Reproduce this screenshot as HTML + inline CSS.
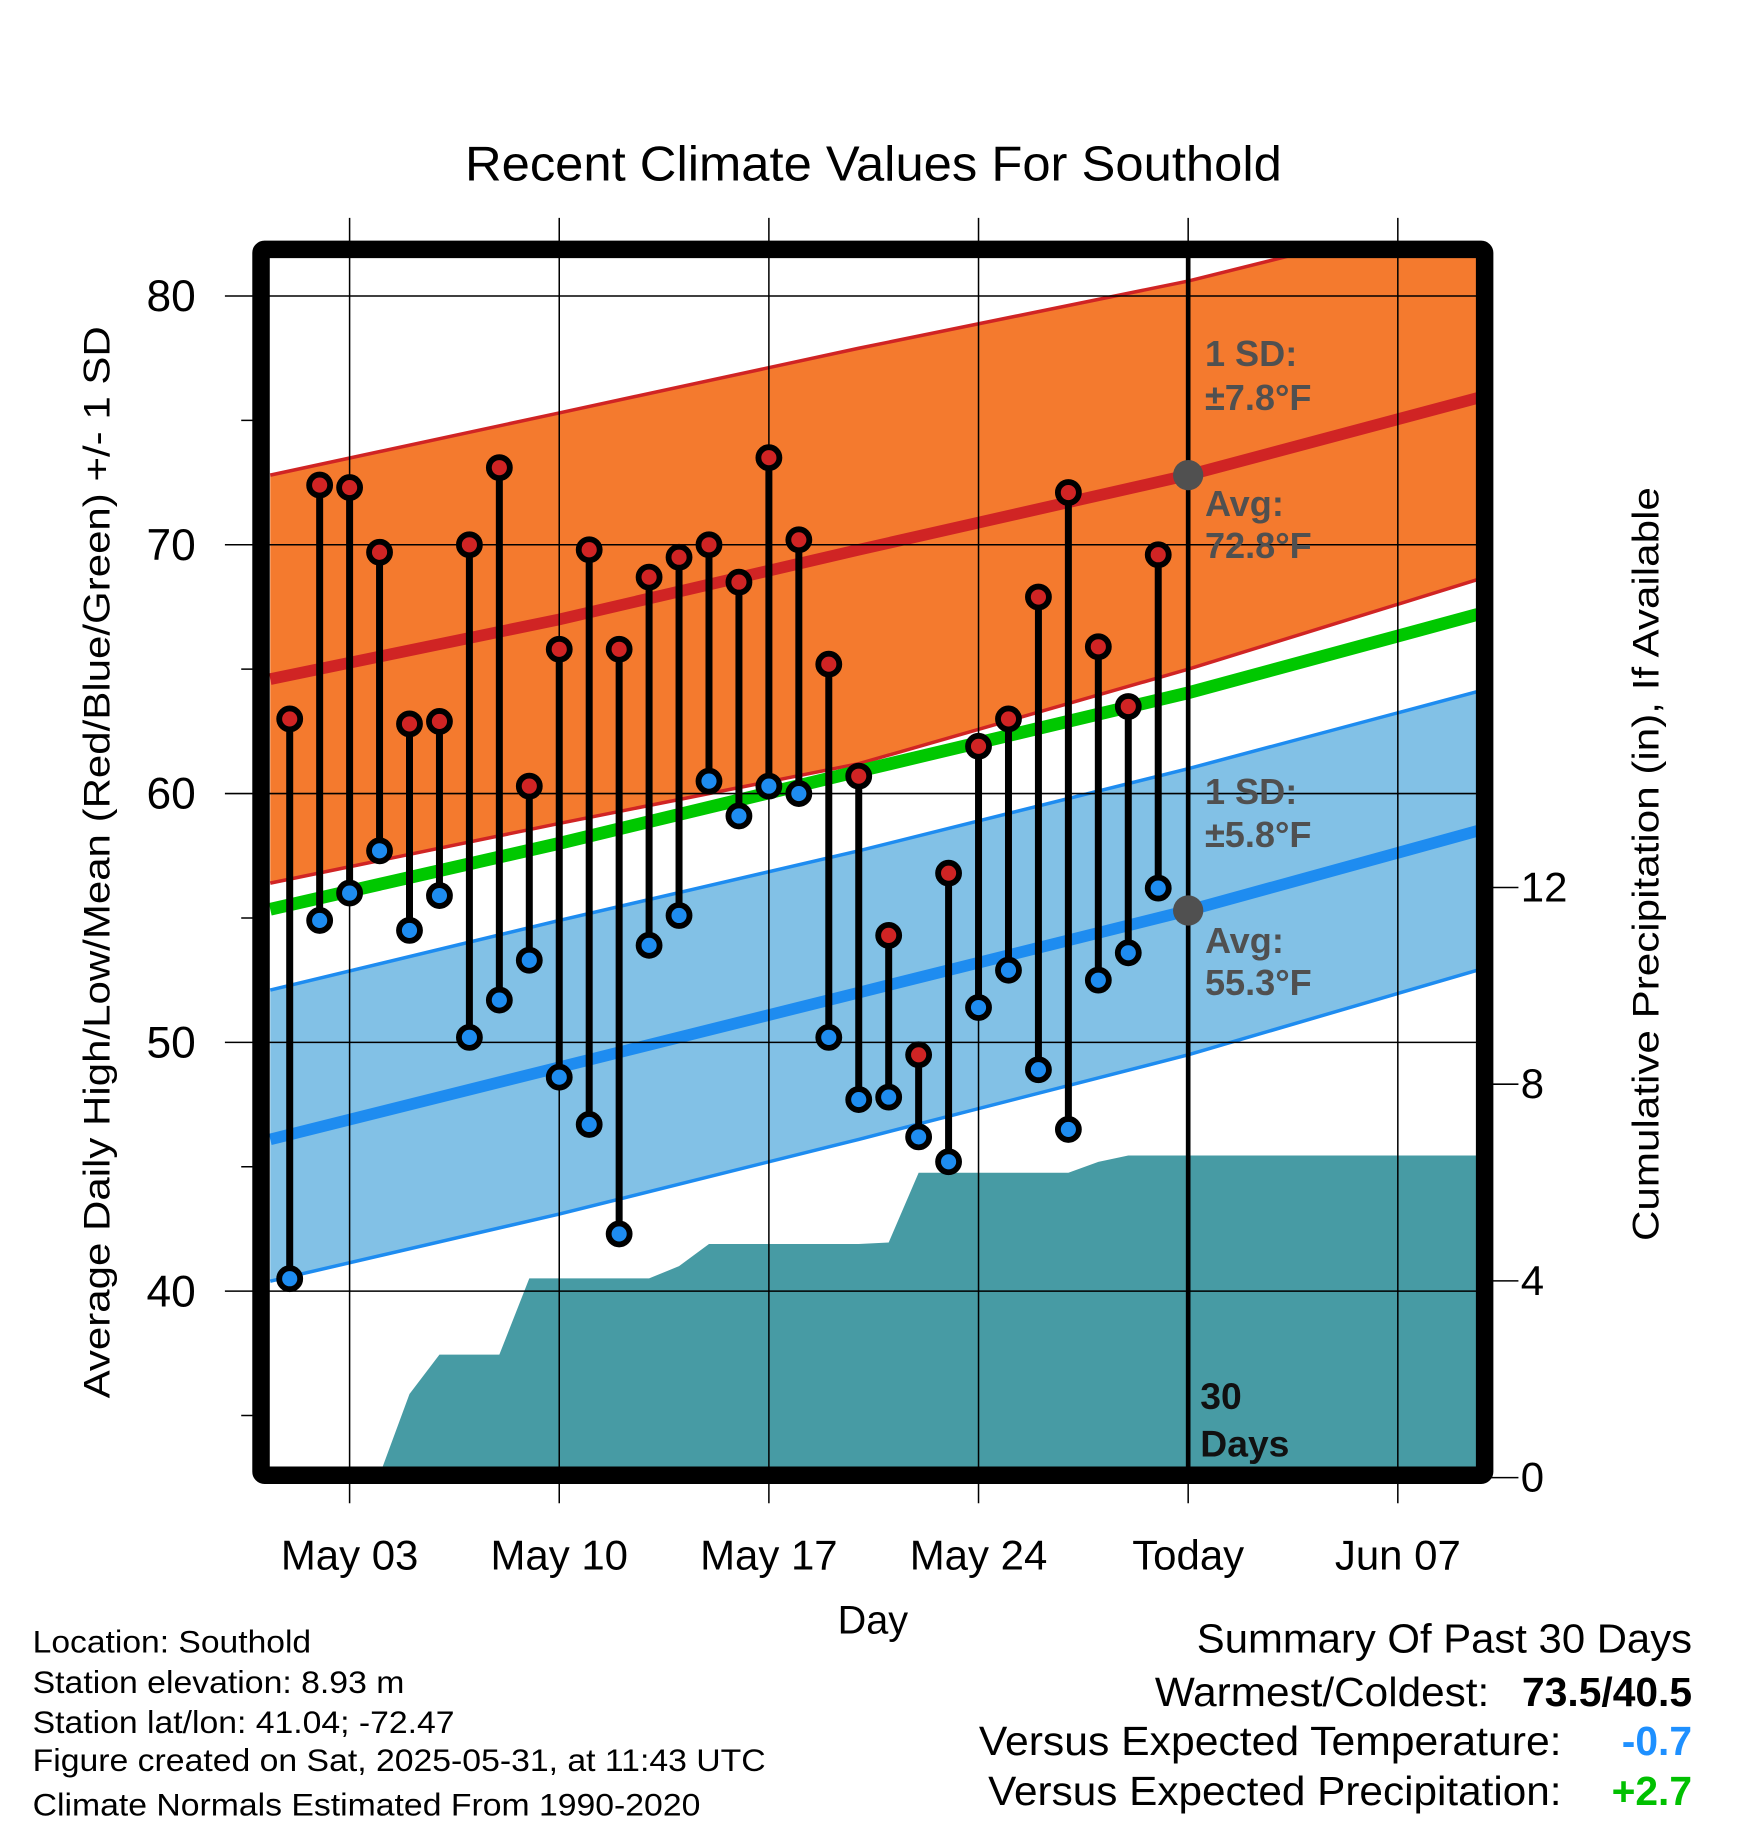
<!DOCTYPE html>
<html><head><meta charset="utf-8"><style>
html,body{margin:0;padding:0;background:#fff}
svg{display:block}
text{font-family:"Liberation Sans",Arial,sans-serif}
</style></head><body>
<svg id="chart" width="1748" height="1828" viewBox="0 0 1500 1568.7" preserveAspectRatio="none" xmlns="http://www.w3.org/2000/svg">
<text x="399" y="155" font-size="42" textLength="701" lengthAdjust="spacingAndGlyphs">Recent Climate Values For Southold</text>
<g id="plot"></g>
<text transform="translate(94,1200) rotate(-90)" font-size="32" textLength="920" lengthAdjust="spacingAndGlyphs">Average Daily High/Low/Mean (Red/Blue/Green) +/- 1 SD</text>
<text transform="translate(1423,1065) rotate(-90)" font-size="32" textLength="647" lengthAdjust="spacingAndGlyphs">Cumulative Precipitation (in), If Available</text>
<text x="749" y="1402" font-size="34" text-anchor="middle">Day</text>
<g font-size="27">
<text x="28" y="1418" textLength="239" lengthAdjust="spacingAndGlyphs">Location: Southold</text>
<text x="28" y="1453" textLength="319" lengthAdjust="spacingAndGlyphs">Station elevation: 8.93 m</text>
<text x="28" y="1487" textLength="362" lengthAdjust="spacingAndGlyphs">Station lat/lon: 41.04; -72.47</text>
<text x="28" y="1520" textLength="629" lengthAdjust="spacingAndGlyphs">Figure created on Sat, 2025-05-31, at 11:43 UTC</text>
<text x="28" y="1558" textLength="573" lengthAdjust="spacingAndGlyphs">Climate Normals Estimated From 1990-2020</text>
</g>
<g font-size="35">
<text x="1027" y="1418" textLength="425" lengthAdjust="spacingAndGlyphs">Summary Of Past 30 Days</text>
<text x="991" y="1464" textLength="287" lengthAdjust="spacingAndGlyphs">Warmest/Coldest:</text>
<text x="1452" y="1464" font-weight="bold" text-anchor="end">73.5/40.5</text>
<text x="840" y="1506" textLength="500" lengthAdjust="spacingAndGlyphs">Versus Expected Temperature:</text>
<text x="1452" y="1506" font-weight="bold" fill="#1e90ff" text-anchor="end">-0.7</text>
<text x="848" y="1549" textLength="492" lengthAdjust="spacingAndGlyphs">Versus Expected Precipitation:</text>
<text x="1452" y="1549" font-weight="bold" fill="#00c000" text-anchor="end">+2.7</text>
</g>
</svg>
<script>
const days=[1,2,3,4,5,6,7,8,9,10,11,12,13,14,15,16,17,18,19,20,21,22,23,24,25,26,27,28,29,30];
const highs=[63,72.4,72.3,69.7,62.8,62.9,70.0,73.1,60.3,65.8,69.8,65.8,68.7,69.5,70.0,68.5,73.5,70.2,65.2,60.7,54.3,49.5,56.8,61.9,63.0,67.9,72.1,65.9,63.5,69.6];
const lows=[40.5,54.9,56.0,57.7,54.5,55.9,50.2,51.7,53.3,48.6,46.7,42.3,53.9,55.1,60.5,59.1,60.3,60.0,50.2,47.7,47.8,46.2,45.2,51.4,52.9,48.9,46.5,52.5,53.6,56.2];
const precip=[0,0,0,0.05,1.7,2.5,2.5,2.5,4.05,4.05,4.05,4.05,4.05,4.3,4.75,4.75,4.75,4.75,4.75,4.75,4.78,6.2,6.2,6.2,6.2,6.2,6.2,6.42,6.55,6.55];
const normDays=[0.35,10,20,31,40.66];
const normHigh=[64.6,67.0,69.8,72.8,75.9];
const highUpper=[72.8,75.3,77.9,80.6,83.5];
const highLower=[56.4,58.8,61.2,65.0,68.6];
const normLow=[46.1,49.0,52.0,55.3,58.5];
const lowUpper=[52.1,54.9,57.7,61.0,64.1];
const lowLower=[40.4,43.1,46.1,49.5,52.9];
const xTickDays=[3,10,17,24,31,38];
const xTickLabels=["May 03","May 10","May 17","May 24","Today","Jun 07"];
const yTicks=[40,50,60,70,80];
const pTicks=[0,4,8,12];

const L=231,R=1268,T=221,B=1260;
const x=d=>300+(d-3)*25.7;
const y=v=>254+(80-v)*21.35;
const yp=p=>1268-p*42.2;
const NS="http://www.w3.org/2000/svg";
const g=document.getElementById('plot');
function mk(tag,a,parent){const e=document.createElementNS(NS,tag);for(const k in a)e.setAttribute(k,a[k]);(parent||g).appendChild(e);return e;}
const clip=mk('clipPath',{id:'pc'});mk('rect',{x:L,y:T,width:R-L,height:B-T},clip);
const pl=mk('g',{'clip-path':'url(#pc)'});
function line(arr){return normDays.map((d,i)=>x(d)+','+y(arr[i])).join(' ');}
function band(up,lo,fill,name){
 const top=normDays.map((d,i)=>x(d)+','+y(up[i]));
 const bot=normDays.map((d,i)=>x(d)+','+y(lo[i])).reverse();
 const p=mk('polygon',{points:top.concat(bot).join(' '),fill:fill},pl);
 
 
}
band(highUpper,highLower,'#f47a2e','high-sd-band');
band(lowUpper,lowLower,'#82c1e6','low-sd-band');
mk('polyline',{points:line(highUpper),fill:'none',stroke:'#d02424','stroke-width':3},pl);
mk('polyline',{points:line(highLower),fill:'none',stroke:'#d02424','stroke-width':3},pl);
mk('polyline',{points:line(lowUpper),fill:'none',stroke:'#1e8cf0','stroke-width':3},pl);
mk('polyline',{points:line(lowLower),fill:'none',stroke:'#1e8cf0','stroke-width':3},pl);
let pp=[L+','+B,L+','+yp(0)];
days.forEach((d,i)=>pp.push(x(d)+','+yp(precip[i])));
pp.push(R+','+yp(precip[precip.length-1]),R+','+B);
const pa=mk('polygon',{points:pp.join(' '),fill:'#479ba4'},pl);


const hl=mk('polyline',{points:line(normHigh),fill:'none',stroke:'#d02424','stroke-width':10},pl);


const ll=mk('polyline',{points:line(normLow),fill:'none',stroke:'#1e8cf0','stroke-width':10},pl);


const mean=normHigh.map((h,i)=>(h+normLow[i])/2);
const ml=mk('polyline',{points:line(mean),fill:'none',stroke:'#00c800','stroke-width':11},pl);


xTickDays.forEach((d,i)=>{
 mk('line',{x1:x(d),x2:x(d),y1:187,y2:1290,stroke:'#000','stroke-width':1.3});
 const t=mk('text',{x:x(d),y:1347,'font-size':36,'text-anchor':'middle'});
 t.textContent=xTickLabels[i];
 
 
});
yTicks.forEach(v=>{
 mk('line',{x1:193,x2:R,y1:y(v),y2:y(v),stroke:'#000','stroke-width':1.3});
 const t=mk('text',{x:168,y:y(v)+13,'font-size':38,'text-anchor':'end'});
 t.textContent=v;
 
 
});
[35,45,55,65,75].forEach(v=>mk('line',{x1:207,x2:224,y1:y(v),y2:y(v),stroke:'#000','stroke-width':1.3}));
pTicks.forEach(p=>{
 mk('line',{x1:1274,x2:1303,y1:yp(p),y2:yp(p),stroke:'#000','stroke-width':1.3});
 const t=mk('text',{x:1305,y:yp(p)+12,'font-size':36});
 t.textContent=p;
 
 
});
mk('line',{x1:x(31),x2:x(31),y1:214,y2:1266,stroke:'#000','stroke-width':4});
days.forEach((d,i)=>{
 const s=mk('line',{x1:x(d),x2:x(d),y1:y(highs[i]),y2:y(lows[i]),stroke:'#000','stroke-width':6});
 
 
});
days.forEach((d,i)=>{
 const a=mk('circle',{cx:x(d),cy:y(highs[i]),r:9,fill:'#d02424',stroke:'#000','stroke-width':5});
 
 
 const b=mk('circle',{cx:x(d),cy:y(lows[i]),r:9,fill:'#1e8cf0',stroke:'#000','stroke-width':5});
 
 
});
mk('circle',{cx:x(31),cy:y(72.8),r:13,fill:'#505050'});
mk('circle',{cx:x(31),cy:y(55.3),r:13,fill:'#505050'});
const ann=[[1034,314,'1 SD:'],[1034,352,'\u00b17.8\u00b0F'],[1034,443,'Avg:'],[1034,479,'72.8\u00b0F'],[1034,690,'1 SD:'],[1034,727,'\u00b15.8\u00b0F'],[1034,818,'Avg:'],[1034,854,'55.3\u00b0F']];
ann.forEach(a=>{
 const t=mk('text',{x:a[0],y:a[1],'font-size':31,'font-weight':'bold',fill:'#505050'});
 t.textContent=a[2];
 
 
});
[[1030,1209,'30'],[1030,1250,'Days']].forEach(a=>{
 const t=mk('text',{x:a[0],y:a[1],'font-size':32,'font-weight':'bold',fill:'#111'});
 t.textContent=a[2];
 
 
});
const fr=mk('rect',{x:224,y:214,width:1050,height:1052,fill:'none',stroke:'#000','stroke-width':15,rx:3});


</script>
</body></html>
